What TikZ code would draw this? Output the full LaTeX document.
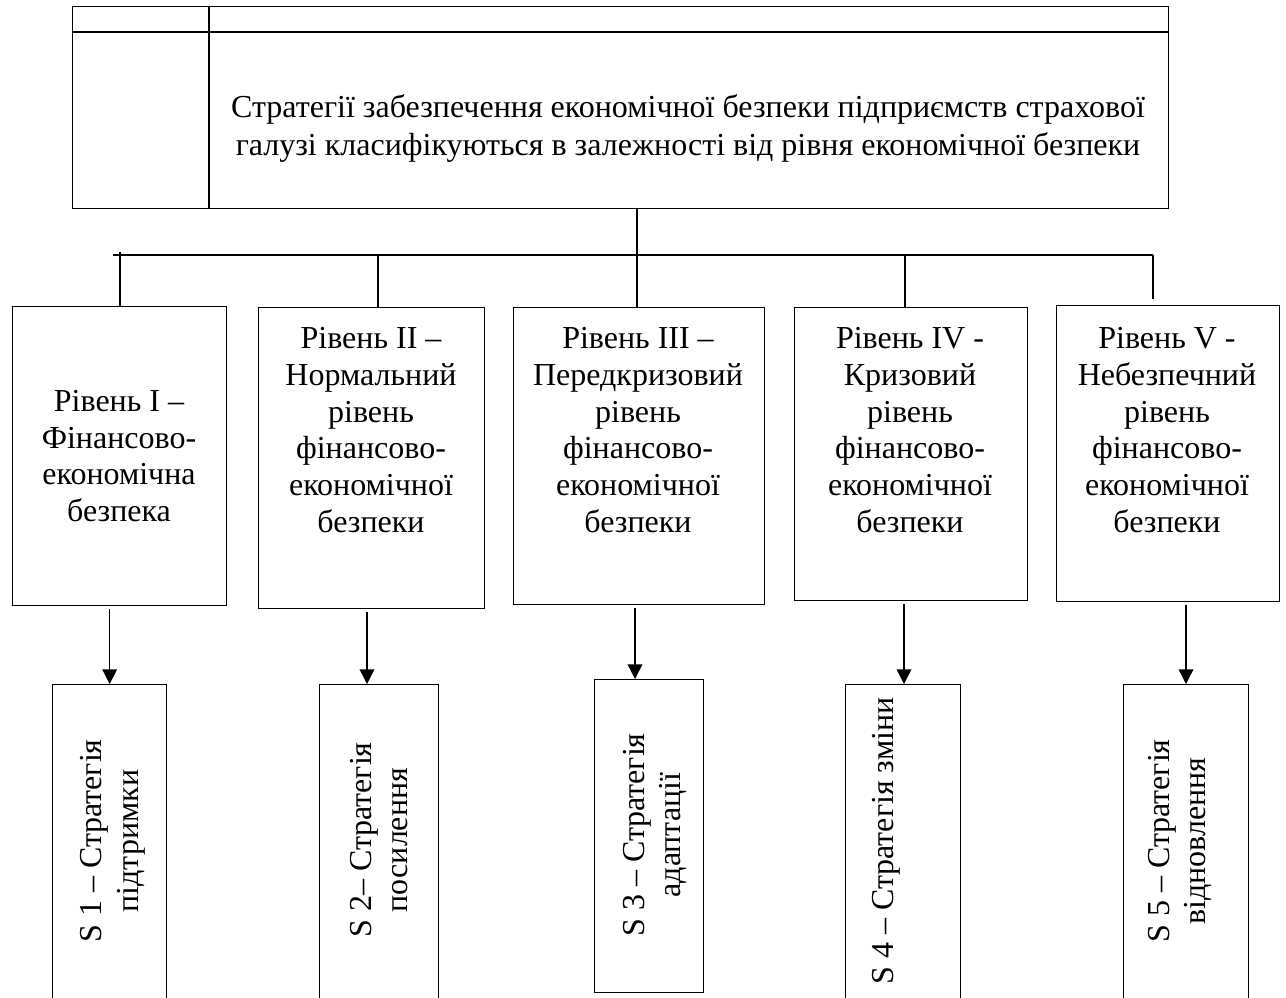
\documentclass[tikz,border=0pt]{standalone}
\usepackage{fontspec}
\setmainfont{Liberation Serif}
\usetikzlibrary{arrows.meta}
\begin{document}
\begin{tikzpicture}[x=0.75pt,y=-0.75pt,
  box/.style={draw, line width=1pt, inner sep=0pt, anchor=north west},
  txt/.style={font=\fontsize{24}{27.6}\selectfont, align=center, inner sep=0pt},
  conn/.style={line width=1pt},
  arr/.style={line width=1pt, shorten <=2pt, -{Triangle[length=11pt,width=11pt]}}]
\useasboundingbox (0,0) rectangle (1286,997);
\clip (0,0) rectangle (1286,997);

% top box (table)
\node[box, minimum width=822pt, minimum height=151.5pt] (top) at (72,6) {};
\draw[conn] (top.west |- 0,32) -- (top.east |- 0,32);
\draw[conn] (top.north -| 209,0) -- (top.south -| 209,0);
\node[txt, font=\fontsize{24}{28.5}\selectfont] (toptxt) at (688,128) {Стратегії забезпечення економічної безпеки підприємств страхової\\галузі класифікуються в залежності від рівня економічної безпеки};

% level boxes
\node[box, minimum width=160.5pt, minimum height=224.25pt] (u1) at (12,306) {};
\node[box, minimum width=169.5pt, minimum height=225.75pt] (u2) at (258,307) {};
\node[box, minimum width=188.25pt, minimum height=222.75pt] (u3) at (513,307) {};
\node[box, minimum width=174.75pt, minimum height=219.75pt] (u4) at (794,307) {};
\node[box, minimum width=167.25pt, minimum height=222pt] (u5) at (1056,305) {};

\node[txt] (t1) at (119,456) {Рівень I –\\Фінансово-\\економічна\\безпека};
\node[txt] (t2) at (371,430) {Рівень II –\\Нормальний\\рівень\\фінансово-\\економічної\\безпеки};
\node[txt] (t3) at (638,430) {Рівень III –\\Передкризовий\\рівень\\фінансово-\\економічної\\безпеки};
\node[txt] (t4) at (910,430) {Рівень IV -\\Кризовий\\рівень\\фінансово-\\економічної\\безпеки};
\node[txt] (t5) at (1167,430) {Рівень V -\\Небезпечний\\рівень\\фінансово-\\економічної\\безпеки};

% strategy boxes
\node[box, minimum width=85.5pt, minimum height=244.5pt] (b1) at (52,684) {};
\node[box, minimum width=89.25pt, minimum height=244.5pt] (b2) at (319,684) {};
\node[box, minimum width=81.75pt, minimum height=234.75pt] (b3) at (594,679) {};
\node[box, minimum width=86.25pt, minimum height=244.5pt] (b4) at (845,684) {};
\node[box, minimum width=93.75pt, minimum height=244.5pt] (b5) at (1123,684) {};

\node[txt, rotate=90] (s1) at (113,841) {S 1 – Стратегія\\підтримки};
\node[txt, rotate=90] (s2) at (379,840) {S 2– Стратегія\\посилення};
\node[txt, rotate=90] (s3) at (655,835) {S 3 – Стратегія\\адаптації};
\node[txt, rotate=90] (s4) at (886,841) {S 4 – Стратегія зміни};
\node[txt, rotate=90] (s5) at (1180,841) {S 5 – Стратегія\\відновлення};

% tree connectors
\coordinate (hl) at (113,255);
\coordinate (hr) at (1153,255);
\coordinate (k1) at (120,252);
\coordinate (k2) at (378,255);
\coordinate (k4) at (905,255);
\coordinate (k5) at (1153,299);
\draw[conn] (hl) -- (hr);
\draw[conn] (top.south -| 637,0) -- (u3.north -| 637,0);
\draw[conn] (k1) -- (u1.north -| k1);
\draw[conn] (k2) -- (u2.north -| k2);
\draw[conn] (k4) -- (u4.north -| k4);
\draw[conn] (hr) -- (k5);

% arrows
\draw[arr] (u1.south -| b1.north) -- (b1.north);
\draw[arr] (u2.south -| 367,0) -- (b2.north -| 367,0);
\draw[arr] (u3.south -| 635,0) -- (b3.north -| 635,0);
\draw[arr] (u4.south -| 904,0) -- (b4.north -| 904,0);
\draw[arr] (u5.south -| 1186,0) -- (b5.north -| 1186,0);
\end{tikzpicture}
\end{document}
